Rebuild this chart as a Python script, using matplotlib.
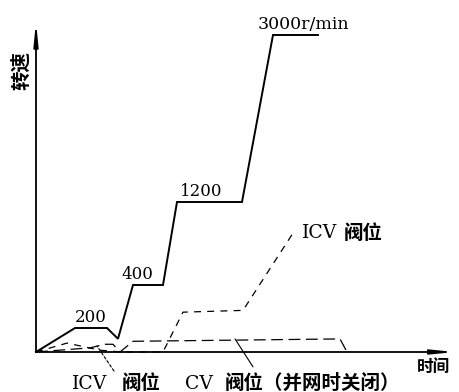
import numpy as np
import matplotlib
matplotlib.use("Agg")
import matplotlib.pyplot as plt

plt.rcParams["lines.scale_dashes"] = False
SERIF = ["DejaVu Serif", "Noto Sans CJK SC"]
CJK = ["Noto Sans CJK SC", "DejaVu Sans"]

# Turbine run-up schedule (time in arbitrary units)
speed_t = [0, 39, 71, 82, 97, 127, 141, 206, 237, 282]
speed_rpm = [0, 200, 200, 110, 400, 400, 1200, 1200, 3000, 3000]

# Speed plateaus that carry a label
hold_levels = [200, 400, 1200]
hold_labels = ["200", "400", "1200"]
hold_label_t = [55, 101, 165]
rated_label = "3000r/min"
rated_speed = 3000

# Valve openings (% of final ICV opening)
icv_t = [0, 31, 64, 86, 127, 147, 207, 257]
icv_open = [0, 7.5, 1.5, 0, 0, 33.5, 35, 100]
cv_t = [0, 54, 69, 77, 84, 97, 304, 311]
cv_open = [0, 3.5, 6.5, 6.5, 0, 9, 11, 0]

# Schematic (non-linear) speed axis
SPD_KNOTS = [0, 200, 400, 1200, 3000, 4000]
POS_KNOTS = [0, 24, 67, 150, 317, 410]


def fwd(v):
    return np.interp(v, SPD_KNOTS, POS_KNOTS)


def inv(p):
    return np.interp(p, POS_KNOTS, SPD_KNOTS)


W, H = 459, 392
fig = plt.figure(figsize=(W / 100, H / 100), dpi=100)
ax = fig.add_axes([36 / W, 40 / H, 419 / W, 327 / H])
ax.set_xlim(0, 419)
ax.set_yscale("function", functions=(fwd, inv))
ax.set_ylim(0, float(inv(327)))

axv = ax.twinx()
axv.set_ylim(0, 275)

for a in (ax, axv):
    for s in a.spines.values():
        s.set_visible(False)
    a.set_xticks([])
    a.set_yticks([])
    a.patch.set_visible(False)

# Axes with slim arrow heads
arrow_kw = dict(arrowstyle="-|>,head_length=1.3,head_width=0.13",
                color="black", lw=1.3, mutation_scale=10,
                shrinkA=0, shrinkB=0)
ax.annotate("", xy=(0, 1.01), xytext=(0, 0), xycoords="axes fraction",
            arrowprops=arrow_kw)
ax.annotate("", xy=(1, 0), xytext=(0, 0), xycoords="axes fraction",
            arrowprops=arrow_kw)

# Speed curve
ax.plot(speed_t, speed_rpm, color="black", lw=1.4, solid_joinstyle="miter",
        clip_on=False)

for lvl, lab, t in zip(hold_levels, hold_labels, hold_label_t):
    ax.annotate(lab, xy=(t, lvl), xytext=(0, 4.5), textcoords="offset points",
                ha="center", va="baseline", fontsize=12, family=SERIF)
ax.annotate(rated_label, xy=(222, rated_speed), xytext=(0, 4.5),
            textcoords="offset points", ha="left", va="baseline",
            fontsize=12.5, family=SERIF)

# Valve position curves
axv.plot(icv_t, icv_open, color="black", lw=0.9, dashes=(5, 4.5),
         clip_on=False)
axv.plot(cv_t, cv_open, color="black", lw=0.9, dashes=(8.5, 4),
         clip_on=False)

# Leader lines to the valve labels
axv.annotate("", xy=(61, 5), xytext=(78, -16),
             arrowprops=dict(arrowstyle="-", lw=0.8, ls=(0, (2, 1.5)),
                             shrinkA=0, shrinkB=0))
axv.annotate("", xy=(199, 11), xytext=(217, -12.5),
             arrowprops=dict(arrowstyle="-", lw=0.8, shrinkA=0, shrinkB=0))

# Valve labels
axv.text(36, -26.5, "ICV", fontsize=13.5, family=SERIF, ha="left", va="center")
axv.text(86, -26.5, "阀位", fontsize=14, family=CJK, weight="bold",
         ha="left", va="center")
axv.text(149, -26.5, "CV", fontsize=13.5, family=SERIF, ha="left", va="center")
axv.text(189, -26.5, "阀位（并网时关闭）", fontsize=14, family=CJK,
         weight="bold", ha="left", va="center")
axv.text(266, 100, "ICV", fontsize=13.5, family=SERIF, ha="left", va="center")
axv.text(308, 100, "阀位", fontsize=14, family=CJK, weight="bold",
         ha="left", va="center")

# Axis names
axv.text(381, -12.5, "时间", fontsize=12, family=CJK, weight="bold",
         ha="left", va="center")
ax.text(-15 / 419, 281 / 327, "转速", fontsize=14, family=CJK,
        weight="bold", rotation=90, ha="center", va="center",
        transform=ax.transAxes)

fig.savefig("out.png", dpi=100)
